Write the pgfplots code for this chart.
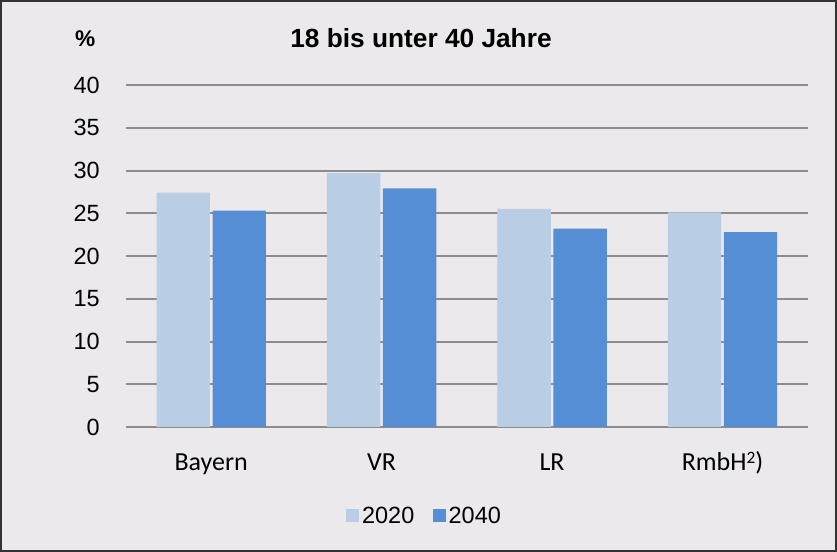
\documentclass[border=0pt]{standalone}
\usepackage{fontspec}
\setmainfont{Liberation Sans}
\newfontfamily\carlito{Carlito}
\usepackage{pgfplots}
\pgfplotsset{compat=1.18}
\definecolor{bg}{HTML}{EBE9EC}
\definecolor{cA}{HTML}{B9CDE5}
\definecolor{cB}{HTML}{558ED5}
\definecolor{gridc}{HTML}{8C8C8C}
\begin{document}
\begin{tikzpicture}[x=0.75pt,y=0.75pt]
\path[use as bounding box] (0,0) rectangle (837,552);
\fill[bg] (0,0) rectangle (837,552);
\draw[black!80, line width=1.5pt] (0.75,0.75) rectangle (836.25,551.25);
\begin{axis}[
  at={(94.5pt,93.75pt)}, anchor=south west,
  scale only axis, width=511.3pt, height=256.5pt,
  xmin=-0.5, xmax=3.5, ymin=0, ymax=40,
  ybar, bar width=40pt,
  xtick={0,1,2,3},
  xticklabels={Bayern,VR,LR,RmbH\raisebox{0.55ex}{\fontsize{13pt}{13pt}\selectfont 2})},
  ytick={0,5,...,40},
  ymajorgrids, grid style={gridc, line width=1.5pt},
  axis line style={draw=none},
  major tick length=0pt,
  /pgf/number format/assume math mode=true,
  yticklabel style={anchor=east, inner sep=0pt, xshift=-19.5pt, font=\fontsize{17.6pt}{20pt}\selectfont},
  xticklabel style={anchor=base, inner sep=0pt, yshift=-32.25pt, font=\carlito\fontsize{19.5pt}{22pt}\selectfont},
  clip=false,
  legend columns=2,
  legend style={at={(0.4386,-0.260)}, anchor=center, draw=none, fill=none,
    font=\fontsize{17.6pt}{20pt}\selectfont,
    /tikz/every even column/.append style={column sep=12pt},
    /tikz/every odd column/.append style={column sep=0pt}},
  legend image code/.code={\fill[#1,draw=none] (0pt,-4.875pt) rectangle (9.75pt,4.875pt);},
]
\addplot[fill=cA, draw=none, bar shift=-21pt] coordinates {(0,27.4) (1,29.7) (2,25.5) (3,25.1)};
\addplot[fill=cB, draw=none, bar shift=21pt] coordinates {(0,25.3) (1,27.9) (2,23.2) (3,22.8)};
\legend{2020,2040}
\node[font=\bfseries\fontsize{19.7pt}{22pt}\selectfont] at (rel axis cs:0.4327,1.136) {18 bis unter 40 Jahre};
\node[font=\bfseries\fontsize{17pt}{19pt}\selectfont] at (rel axis cs:-0.060,1.134) {\%};
\end{axis}
\end{tikzpicture}
\end{document}
